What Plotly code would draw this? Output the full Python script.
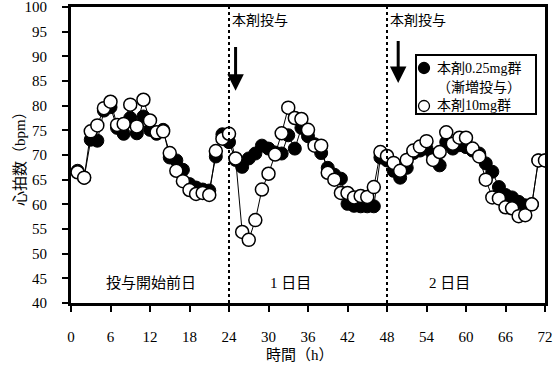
import plotly.graph_objects as go

hours = list(range(1, 73))

# 本剤10mg群 (open circles)
dose10 = [
    66.5, 65.4, 74.8, 76.0, 79.5, 80.8, 76.1, 76.3, 80.2, 75.8, 81.2, 77.0,
    74.6, 74.8, 70.4, 66.8, 64.7, 62.9, 62.1, 62.3, 61.9, 70.8, 73.3, 74.3,
    69.3, 54.4, 52.8, 56.8, 63.0, 66.2, 70.1, 74.4, 79.6, 77.5, 77.3, 75.1,
    71.9, 71.9, 66.4, 65.0, 62.3, 62.3, 61.4, 61.7, 61.5, 63.5, 70.6, 69.8,
    68.4, 66.8, 69.0, 70.9, 71.7, 72.8, 69.0, 70.6, 74.6, 72.3, 73.5, 73.5,
    71.3, 69.7, 65.0, 61.4, 61.2, 59.4, 59.2, 57.6, 57.8, 60.0, 68.9, 68.9,
]

# 本剤0.25mg群（漸増投与） (filled circles)
dose025 = [
    66.8, 65.4, 73.1, 72.9, 79.0, 79.7, 75.5, 74.3, 77.5, 74.4, 77.8, 75.1,
    74.3, 75.1, 69.5, 68.9, 67.0, 64.1, 63.4, 63.0, 62.8, 69.7, 74.2, 72.6,
    69.0, 67.6, 69.3, 70.3, 71.9, 71.3, 70.5, 70.3, 74.0, 71.3, 75.5, 73.8,
    72.2, 70.4, 67.4, 66.0, 65.2, 60.1, 59.7, 59.6, 59.6, 59.6, 69.5, 68.9,
    66.8, 65.4, 67.4, 70.4, 70.9, 71.3, 70.0, 67.9, 72.6, 71.3, 72.0, 71.6,
    70.9, 70.3, 68.3, 66.6, 63.5, 61.9, 61.4, 60.5, 59.8, 60.0, 68.9, 68.9,
]

x_ticks = list(range(0, 73, 6))
y_ticks = list(range(40, 101, 5))
dose_hours = [24, 48]
day_labels = ["投与開始前日", "1 日目", "2 日目"]
day_label_x = [12.2, 33.3, 57.5]
legend_labels = ["本剤0.25mg群", "（漸増投与）", "本剤10mg群"]

SERIF = "Liberation Serif, Noto Sans CJK JP, serif"

# plot-area geometry (pixels) used for placing the hand-built legend
L, R, T, B = 71, 545, 7, 303
def px(xp):
    return (xp - L) / (R - L)
def py(yp):
    return 1 - (yp - T) / (B - T)

fig = go.Figure()

fig.add_trace(go.Scatter(
    x=hours, y=dose025, mode="lines+markers", showlegend=False,
    name=legend_labels[0],
    line=dict(color="black", width=1),
    marker=dict(symbol="circle", size=13, color="black", line=dict(color="black", width=1)),
))
fig.add_trace(go.Scatter(
    x=hours, y=dose10, mode="lines+markers", showlegend=False,
    name=legend_labels[2],
    line=dict(color="black", width=1),
    marker=dict(symbol="circle", size=13, color="white", line=dict(color="black", width=1.5)),
))

shapes = []
for h in dose_hours:
    shapes.append(dict(type="line", x0=h, x1=h, y0=40, y1=100, xref="x", yref="y",
                       line=dict(color="black", width=2, dash="dot")))

# legend box
shapes.append(dict(type="rect", xref="paper", yref="paper",
                   x0=px(416), x1=px(536), y0=py(114), y1=py(55),
                   line=dict(color="black", width=2), fillcolor="white", layer="above"))
# legend symbols
for yy, fill in [(68, "black"), (106, "white")]:
    shapes.append(dict(type="circle", xref="paper", yref="paper",
                       xsizemode="pixel", ysizemode="pixel",
                       xanchor=px(424), yanchor=py(yy),
                       x0=-5.5, x1=5.5, y0=-5.5, y1=5.5,
                       line=dict(color="black", width=1.3), fillcolor=fill, layer="above"))

annotations = []
for h in dose_hours:
    annotations.append(dict(x=h, y=97.2, xref="x", yref="y", text="本剤投与",
                            showarrow=False, xanchor="left", yanchor="middle",
                            xshift=1, font=dict(size=14, color="black", family=SERIF)))
# arrows
annotations.append(dict(x=25.0, y=83.0, xref="x", yref="y", ax=25.0, ay=92.2,
                        axref="x", ayref="y", text="", showarrow=True,
                        arrowhead=2, arrowsize=1.1, arrowwidth=3, arrowcolor="black"))
annotations.append(dict(x=49.7, y=84.6, xref="x", yref="y", ax=49.7, ay=93.4,
                        axref="x", ayref="y", text="", showarrow=True,
                        arrowhead=2, arrowsize=1.1, arrowwidth=3, arrowcolor="black"))
for lab, lx in zip(day_labels, day_label_x):
    annotations.append(dict(x=lx, y=44.1, xref="x", yref="y", text=lab, showarrow=False,
                            xanchor="center", yanchor="middle",
                            font=dict(size=15, color="black", family=SERIF)))
# legend texts
for lab, yy in zip(legend_labels, [68, 87, 106]):
    annotations.append(dict(x=px(435), y=py(yy), xref="paper", yref="paper", text=lab,
                            showarrow=False, xanchor="left", yanchor="middle",
                            font=dict(size=14, color="black", family=SERIF)))
# axis titles
annotations.append(dict(x=px(20), y=py(155), xref="paper", yref="paper", text="心拍数（bpm）",
                        textangle=-90, showarrow=False, xanchor="center", yanchor="middle",
                        font=dict(size=15, color="black", family=SERIF)))
annotations.append(dict(x=px(300), y=py(355), xref="paper", yref="paper", text="時間（h）",
                        showarrow=False, xanchor="center", yanchor="middle",
                        font=dict(size=15, color="black", family=SERIF)))

fig.update_layout(
    width=554, height=367,
    margin=dict(l=L, r=554 - R, t=T, b=367 - B),
    paper_bgcolor="white", plot_bgcolor="white",
    font=dict(family=SERIF, size=15, color="black"),
    annotations=annotations, shapes=shapes,
    showlegend=False,
    xaxis=dict(range=[0, 72], tickvals=x_ticks, ticktext=[str(v) for v in x_ticks],
               showgrid=False, zeroline=False, showline=True, linecolor="black",
               linewidth=3, mirror=True, ticks="outside", ticklen=6, tickwidth=2,
               tickcolor="black", ticklabelstandoff=12, ticklabeloverflow="allow",
               automargin=False, fixedrange=True),
    yaxis=dict(range=[40, 100], tickvals=y_ticks, ticktext=[str(v) for v in y_ticks],
               showgrid=False, zeroline=False, showline=True, linecolor="black",
               linewidth=3, mirror=True, ticks="outside", ticklen=6, tickwidth=2,
               tickcolor="black", ticklabelstandoff=12, ticklabeloverflow="allow",
               automargin=False, fixedrange=True),
)

fig.write_html("out.html", config={"displayModeBar": False},
               post_script="document.body.style.margin='0';document.body.style.overflow='hidden';")
